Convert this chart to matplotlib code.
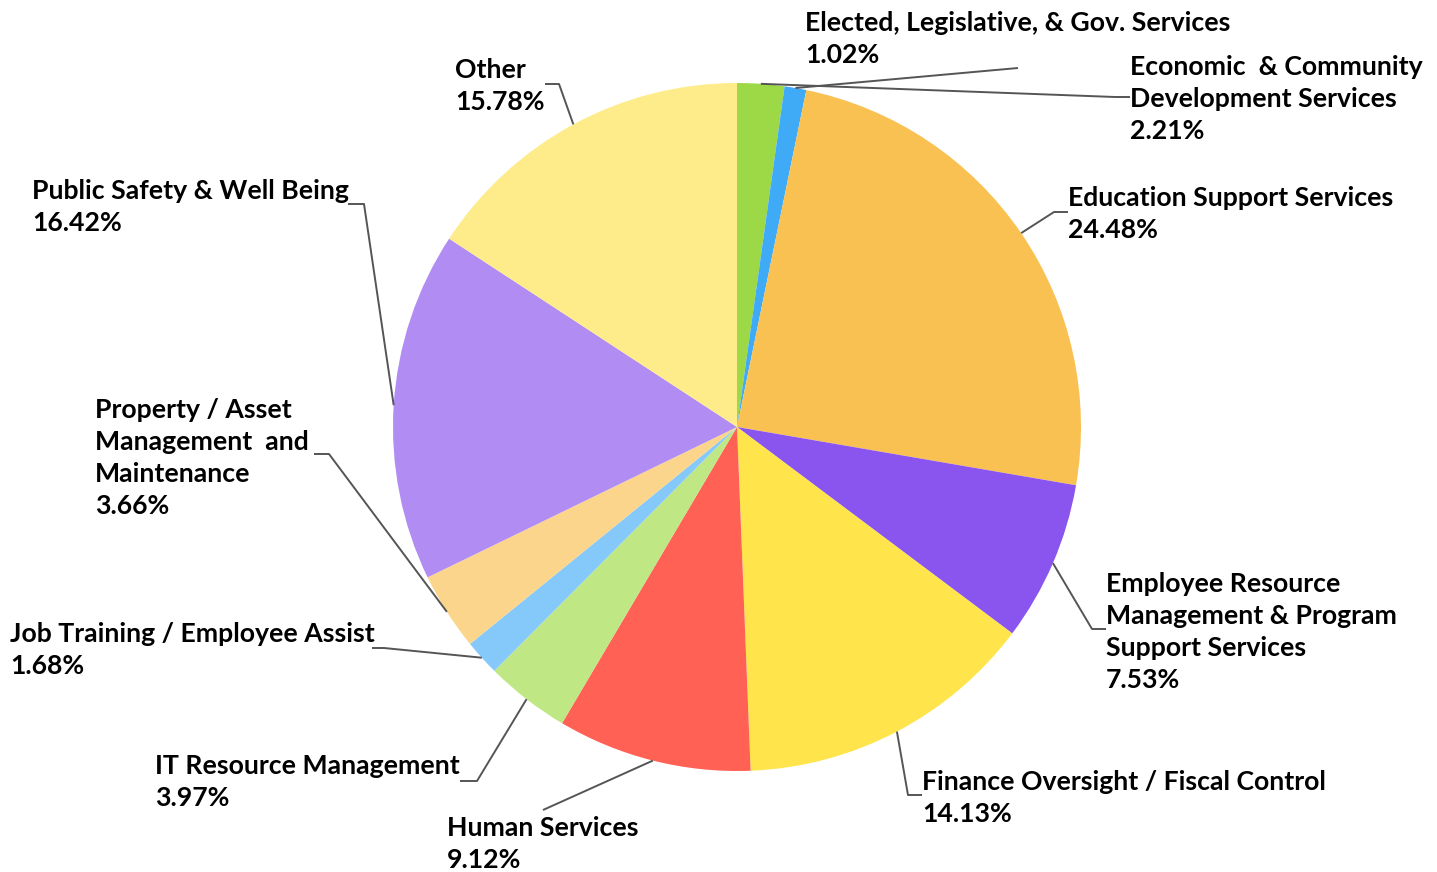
import numpy as np
import matplotlib
matplotlib.use("Agg")
import matplotlib.pyplot as plt

# ---- data ----
categories = [
    "Economic  & Community\nDevelopment Services",
    "Elected, Legislative, & Gov. Services",
    "Education Support Services",
    "Employee Resource\nManagement & Program\nSupport Services",
    "Finance Oversight / Fiscal Control",
    "Human Services",
    "IT Resource Management",
    "Job Training / Employee Assist",
    "Property / Asset\nManagement  and\nMaintenance",
    "Public Safety & Well Being",
    "Other",
]
values = [2.21, 1.02, 24.48, 7.53, 14.13, 9.12, 3.97, 1.68, 3.66, 16.42, 15.78]
colors = ["#9DD846", "#3FAAF6", "#F9C152", "#8A55EE", "#FFE44B", "#FF6155",
          "#BFE784", "#85C9FB", "#FBD58C", "#B18DF3", "#FDEC89"]

# ---- layout (pixel positions, y measured from top) ----
W, H = 1437, 872
CX, CY, R = 737, 427, 344
# label text left x, first-line center y
label_pos = [(1130, 67), (805, 23), (1068, 198), (1106, 584), (922, 782),
             (447, 828), (155, 766), (10, 634), (95, 410), (32, 191), (455, 70)]
# leader path after the wedge edge point: list of pixel points
leader_path = [
    [(1115, 97), (1130, 97)],
    [(1018, 68)],
    [(1054, 212), (1068, 212)],
    [(1092, 629), (1106, 629)],
    [(908, 795), (922, 795)],
    [(543, 810)],
    [(477, 781), (460, 781)],
    [(384, 648), (372, 648)],
    [(329, 454), (314, 454)],
    [(364, 204), (348, 204)],
    [(559, 84), (545, 84)],
]
LINE_STEP = 32

plt.rcParams['font.family'] = ['Lato', 'DejaVu Sans']
fig = plt.figure(figsize=(W / 100, H / 100), dpi=100)
ax = fig.add_axes([0, 0, 1, 1])

wedges, _ = ax.pie(values, colors=colors, startangle=90, counterclock=False,
                   center=(CX, H - CY), radius=R,
                   wedgeprops=dict(linewidth=0))
ax.set_xlim(0, W)
ax.set_ylim(0, H)
ax.set_aspect('equal')
ax.axis('off')

total = float(sum(values))
cum = np.cumsum([0] + values[:-1])
for i, (cat, v) in enumerate(zip(categories, values)):
    mid = (cum[i] + v / 2) / total * 360.0  # clockwise from top
    th = np.deg2rad(mid)
    sx = CX + R * np.sin(th)
    sy = (H - CY) + R * np.cos(th)
    xs = [sx] + [p[0] for p in leader_path[i]]
    ys = [sy] + [H - p[1] for p in leader_path[i]]
    ax.plot(xs, ys, color="#555555", lw=1.4, solid_capstyle='butt', zorder=3)
    lines = cat.split("\n") + [f"{v:.2f}%"]
    lx, ly = label_pos[i]
    for j, ln in enumerate(lines):
        ax.text(lx, H - (ly + j * LINE_STEP), ln, ha='left', va='center',
                fontsize=19.2, fontweight='bold', color="#000000")

fig.savefig("out.png", dpi=100)
